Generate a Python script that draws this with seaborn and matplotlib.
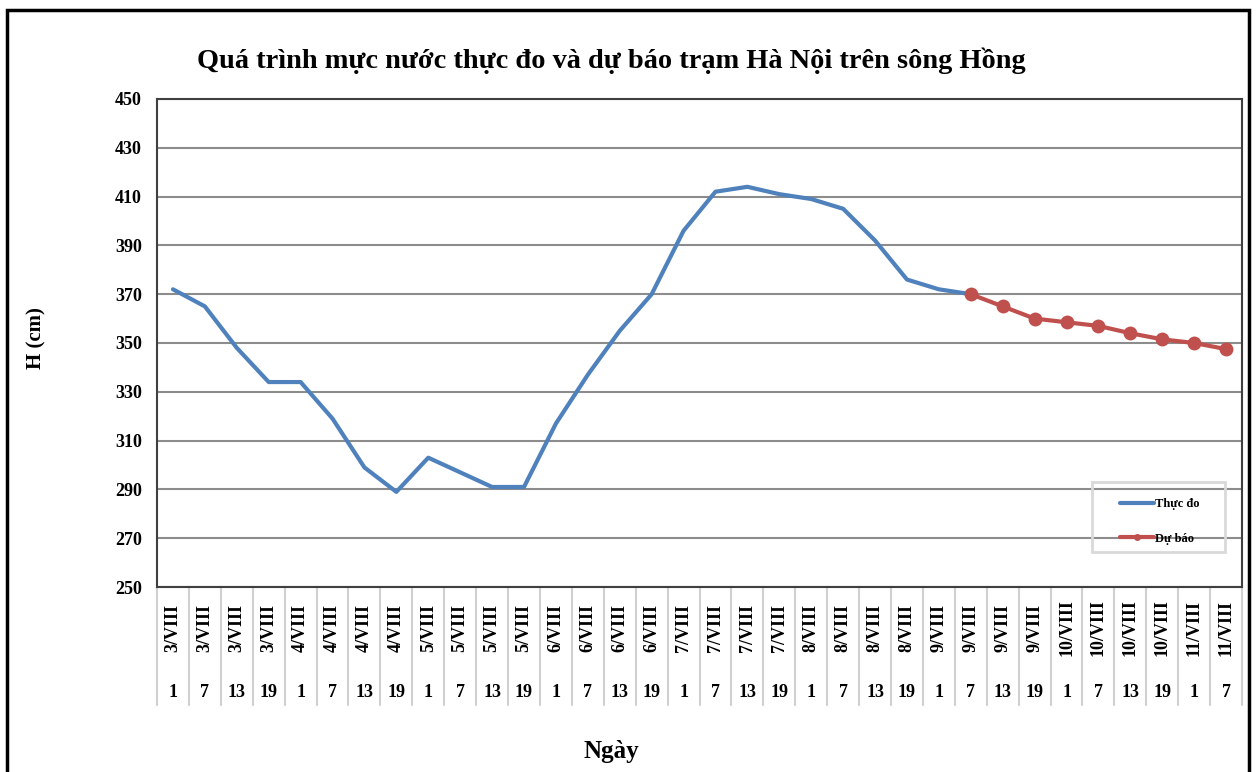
import matplotlib
matplotlib.use("Agg")
import matplotlib.pyplot as plt
import matplotlib.transforms as mtransforms
from matplotlib.patches import Rectangle
import pandas as pd
import seaborn as sns

# category labels: day (upper row) and hour (lower row)
day_labels = (["3/VIII"] * 4 + ["4/VIII"] * 4 + ["5/VIII"] * 4 + ["6/VIII"] * 4
              + ["7/VIII"] * 4 + ["8/VIII"] * 4 + ["9/VIII"] * 4
              + ["10/VIII"] * 4 + ["11/VIII"] * 2)
hour_labels = ["1", "7", "13", "19"] * 8 + ["1", "7"]

# measured water level (cm), 3/VIII 1h .. 9/VIII 7h
observed = [372, 365, 348, 334, 334, 319, 299, 289, 303, 297, 291, 291,
            317, 337, 355, 370, 396, 412, 414, 411, 409, 405, 392, 376,
            372, 370]
# forecast (cm), 9/VIII 7h .. 11/VIII 7h
forecast = [370, 365, 360, 358.5, 357, 354, 351.5, 350, 347.5]

y_ticks = list(range(250, 451, 20))

obs_df = pd.DataFrame({"x": range(len(observed)), "H": observed})
fc_start = len(observed) - 1
fc_df = pd.DataFrame({"x": range(fc_start, fc_start + len(forecast)), "H": forecast})

sns.set_style("white")
plt.rcParams["font.family"] = ["Liberation Serif", "DejaVu Serif"]
plt.rcParams["font.weight"] = "bold"
plt.rcParams["text.color"] = "black"
plt.rcParams["ytick.labelcolor"] = "black"

fig = plt.figure(figsize=(12.56, 7.72), dpi=100)
ax = fig.add_axes([0.125, 0.2396, 0.8639, 0.6322])

sns.lineplot(data=obs_df, x="x", y="H", ax=ax, color="#4F81BD",
             linewidth=3, label="Thực đo")
sns.lineplot(data=fc_df, x="x", y="H", ax=ax, color="#C0504D",
             linewidth=3, marker="o", markersize=10, markeredgewidth=0,
             label="Dự báo")

n = len(day_labels)
ax.set_xlim(-0.5, n - 0.5)
ax.set_ylim(250, 450)
ax.set_yticks(y_ticks)
ax.set_yticklabels([str(v) for v in y_ticks], fontsize=13, fontweight="bold")
ax.set_xticks([])
ax.set_xlabel("")
ax.set_ylabel("")
ax.tick_params(axis="y", direction="out", length=5, width=1, color="#404040", pad=6)
ax.grid(axis="y", color="#8c8c8c", linewidth=1.5)
ax.set_axisbelow(True)
for sp in ax.spines.values():
    sp.set_color("#404040")
    sp.set_linewidth(1.5)

# two-row category axis
trans = mtransforms.blended_transform_factory(ax.transData, ax.transAxes)
for i in range(n):
    ax.text(i, -0.084, day_labels[i], transform=trans, rotation=90,
            ha="center", va="center", fontsize=13, fontweight="bold")
    ax.text(i, -0.217, hour_labels[i], transform=trans,
            ha="center", va="center", fontsize=13, fontweight="bold")
for b in range(n + 1):
    ax.plot([b - 0.5, b - 0.5], [0, -0.242], transform=trans, color="#d0d0d0",
            linewidth=1.5, clip_on=False, zorder=0)

# legend: entries without frame, box drawn separately (Excel-like padding)
leg = ax.legend(loc="upper left", bbox_to_anchor=(0.8876, 0.182), borderaxespad=0,
                frameon=False, handlelength=2.7, handletextpad=0.1,
                labelspacing=1.8, borderpad=0,
                prop={"size": 9, "weight": "bold"})
for h in leg.legend_handles:
    h.set_markersize(5)
ax.add_patch(Rectangle((0.862, 0.072), 0.1226, 0.143, transform=ax.transAxes,
                       fill=False, edgecolor="#d9d9d9", linewidth=2, clip_on=False))

fig.text(0.487, 0.921, "Quá trình mực nước thực đo và dự báo trạm Hà Nội trên sông Hồng",
         ha="center", va="center", fontsize=20.4, fontweight="bold")
fig.text(0.487, 0.026, "Ngày", ha="center", va="center", fontsize=18, fontweight="bold")
fig.text(0.029, 0.562, "H (cm)", ha="center", va="center", rotation=90,
         fontsize=15, fontweight="bold")

fig.patches.append(Rectangle((0.0052, -0.05), 0.9892, 1.037, transform=fig.transFigure,
                             fill=False, edgecolor="black", linewidth=2.5))

fig.savefig("out.png", dpi=100)
